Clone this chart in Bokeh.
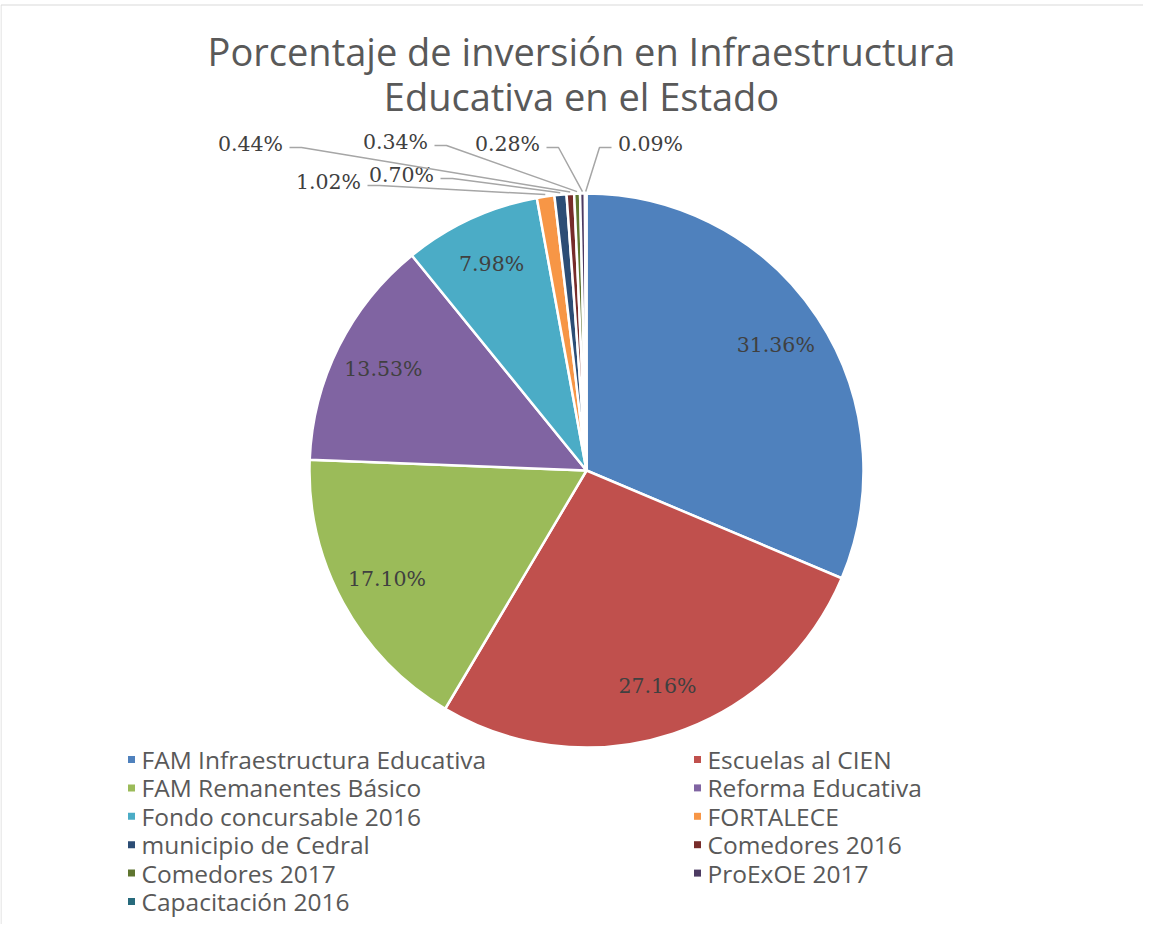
import math
from bokeh.plotting import figure
from bokeh.models import Range1d, ColumnDataSource
from bokeh.core.properties import value
from bokeh.embed import file_html
from bokeh.resources import INLINE

# ---------------- data ----------------
categories = [
    "FAM Infraestructura Educativa",
    "Escuelas al CIEN",
    "FAM Remanentes Básico",
    "Reforma Educativa",
    "Fondo concursable 2016",
    "FORTALECE",
    "municipio de Cedral",
    "Comedores 2016",
    "Comedores 2017",
    "ProExOE 2017",
    "Capacitación 2016",
]
percentages = [31.36, 27.16, 17.10, 13.53, 7.98, 1.02, 0.70, 0.44, 0.34, 0.28, 0.09]
colors = ["#4F81BD", "#C0504D", "#9BBB59", "#8064A2", "#4BACC6", "#F79646",
          "#2C4D75", "#772C2A", "#5F7530", "#4D3B62", "#276A7C"]
title_lines = ["Porcentaje de inversión en Infraestructura", "Educativa en el Estado"]

# ---------------- layout (screen pixels of the reference) ----------------
W, H = 1143, 924
CX, CY, R = 586, 470, 277
INSIDE_FRAC = 0.82
# outside label centres for the small slices (index -> (x, y, side))
outside_pos = {
    5: (328, 181, "right"),
    6: (401, 174, "right"),
    7: (250, 143, "right"),
    8: (395, 141, "right"),
    9: (507, 143, "right"),
    10: (650, 143, "left"),
}
LABEL_HALF_W = 36

p = figure(width=W, height=H, output_backend="svg", toolbar_location=None,
           x_range=Range1d(0, W), y_range=Range1d(-H, 0),
           x_axis_type=None, y_axis_type=None, min_border=0,
           background_fill_color="white", border_fill_color="white")
p.grid.visible = False
p.outline_line_color = None

# chart border (top and left visible in reference)
p.line([0.5, W], [-4.5, -4.5], line_color="#D9D9D9", line_width=1)
p.line([0.5, 0.5], [-4.5, -H], line_color="#D9D9D9", line_width=1)

# pie
total = sum(percentages)
starts, ends, mids = [], [], []
cum = 0.0
for v in percentages:
    a0 = math.pi / 2 - 2 * math.pi * cum / total
    cum += v
    a1 = math.pi / 2 - 2 * math.pi * cum / total
    starts.append(a0)
    ends.append(a1)
    mids.append((a0 + a1) / 2)

src = ColumnDataSource(dict(start=starts, end=ends, color=colors,
                            x=[CX] * len(percentages), y=[-CY] * len(percentages)))
p.wedge(x="x", y="y", radius=R, start_angle="start", end_angle="end",
        direction="clock", fill_color="color", line_color="white", line_width=2.5,
        source=src)

label_font = value("DejaVu Serif")
LFS = "20.5px"
# inside labels
ix, iy, it = [], [], []
for i, v in enumerate(percentages):
    if i in outside_pos:
        continue
    ix.append(CX + INSIDE_FRAC * R * math.cos(mids[i]))
    iy.append(-CY + INSIDE_FRAC * R * math.sin(mids[i]))
    it.append(f"{v:.2f}%")
p.text(x=ix, y=iy, text=it, text_font=label_font, text_font_size=LFS,
       text_color="#404040", text_align="center", text_baseline="middle")

# outside labels with leader lines
for i, (lx, ly, side) in outside_pos.items():
    v = percentages[i]
    p.text(x=[lx], y=[-ly], text=[f"{v:.2f}%"], text_font=label_font,
           text_font_size=LFS, text_color="#404040",
           text_align="center", text_baseline="middle")
    ex = CX + (R + 2) * math.cos(mids[i])
    ey = -CY + (R + 2) * math.sin(mids[i])
    sx = lx + (LABEL_HALF_W + 3 if side == "right" else -(LABEL_HALF_W + 3))
    kx = sx + (12 if side == "right" else -12)
    sy = -(ly + 4)
    p.line([sx, kx, ex], [sy, sy, ey], line_color="#A6A6A6", line_width=1.5)

# title
for k, t in enumerate(title_lines):
    p.text(x=[581], y=[-(50 + 45 * k)], text=[t], text_font=value("Open Sans"),
           text_font_size="38px", text_color="#595959", text_align="center",
           text_baseline="middle")

# legend
col_x = [131, 697]
row_y0, row_dy = 759, 28.4
for i, name in enumerate(categories):
    r_, c_ = divmod(i, 2)
    mx = col_x[c_]
    my = row_y0 + r_ * row_dy
    p.scatter(x=[mx], y=[-my], marker="square", size=7, fill_color=colors[i], line_color=None)
    p.text(x=[mx + 10], y=[-my], text=[name], text_font=value("Open Sans"),
           text_font_size="24.5px", text_color="#595959", text_align="left",
           text_baseline="middle")

open("out.html", "w").write(file_html(p, INLINE))
